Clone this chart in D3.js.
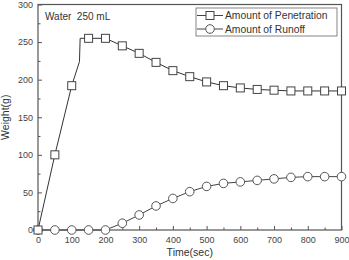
<!DOCTYPE html>
<html><head><meta charset="utf-8">
<script src="https://cdn.jsdelivr.net/npm/d3@7"></script>
<style>body{margin:0;background:#fff}svg{display:block;font-family:"Liberation Sans",Arial,sans-serif}</style>
</head><body>
<script>
const penTime = [0, 50, 100, 123, 125, 150, 200, 250, 300, 350, 400, 450, 500, 550, 600, 650, 700, 750, 800, 850, 900];
const penValue = [0, 100, 192, 224, 255, 255, 255, 245, 235, 223, 212, 204, 197, 192, 189, 187, 186, 185, 185, 185, 185];
const runTime = [0, 50, 100, 150, 200, 250, 300, 350, 400, 450, 500, 550, 600, 650, 700, 750, 800, 850, 900];
const runValue = [0, 0, 0, 0, 0, 9, 20, 32, 42, 51, 58, 62, 64, 66, 68, 70, 71, 71, 71];
const xTicks = [0, 100, 200, 300, 400, 500, 600, 700, 800, 900];
const yTicks = [0, 50, 100, 150, 200, 250, 300];
const legendLabels = ["Amount of Penetration", "Amount of Runoff"];
const annotation = "Water  250 mL";

const W = 349, H = 260;
const svg = d3.select("body").append("svg").attr("width", W).attr("height", H);
const x = d3.scaleLinear().domain([0, 900]).range([38, 341.5]);
const y = d3.scaleLinear().domain([0, 300]).range([230, 4.5]);
const ink = "#444";

// frame
svg.append("rect").attr("x", x(0)).attr("y", y(300)).attr("width", x(900) - x(0)).attr("height", y(0) - y(300))
  .attr("fill", "none").attr("stroke", "#555").attr("stroke-width", 1.2);

// x axis
const xa = svg.append("g").attr("transform", `translate(0,${y(0)})`)
  .call(d3.axisBottom(x).tickValues(xTicks).tickSize(-4).tickPadding(7).tickFormat(d3.format("d")));
const xm = svg.append("g").attr("transform", `translate(0,${y(0)})`)
  .call(d3.axisBottom(x).tickValues(d3.range(50, 900, 100)).tickSize(-2.5).tickFormat(""));
// y axis
const ya = svg.append("g").attr("transform", `translate(${x(0)},0)`)
  .call(d3.axisLeft(y).tickValues(yTicks).tickSize(-4).tickPadding(5).tickFormat(d3.format("d")));
const ym = svg.append("g").attr("transform", `translate(${x(0)},0)`)
  .call(d3.axisLeft(y).tickValues(d3.range(25, 300, 50)).tickSize(-2.5).tickFormat(""));
[xa, xm, ya, ym].forEach(g => {
  g.select(".domain").remove();
  g.selectAll("line").attr("stroke", "#555");
  g.selectAll("text").attr("fill", "#444").style("font-size", "9px");
});

// titles
svg.append("text").attr("x", (x(0) + x(900)) / 2).attr("y", 256).attr("text-anchor", "middle")
  .attr("fill", "#333").style("font-size", "10.5px").text("Time(sec)");
svg.append("text").attr("transform", `translate(9,${y(150)}) rotate(-90)`).attr("text-anchor", "middle")
  .attr("fill", "#333").style("font-size", "10.5px").text("Weight(g)");
svg.append("text").attr("x", 45).attr("y", 20).attr("fill", "#333").style("font-size", "10px")
  .style("white-space", "pre").text(annotation);

const line = d3.line().x(d => x(d[0])).y(d => y(d[1]));
const pen = penTime.map((t, i) => [t, penValue[i]]);
const run = runTime.map((t, i) => [t, runValue[i]]);

svg.append("path").datum(run).attr("d", line).attr("fill", "none").attr("stroke", ink).attr("stroke-width", 1);
svg.append("path").datum(pen).attr("d", line).attr("fill", "none").attr("stroke", "#333").attr("stroke-width", 1);

svg.selectAll(".rm").data(run).enter().append("circle")
  .attr("cx", d => x(d[0])).attr("cy", d => y(d[1])).attr("r", 4.3)
  .attr("fill", "#fff").attr("stroke", "#555").attr("stroke-width", 1);
svg.selectAll(".pm").data(pen.filter(d => d[0] % 50 === 0)).enter().append("rect")
  .attr("x", d => x(d[0]) - 4).attr("y", d => y(d[1]) - 4).attr("width", 8).attr("height", 8)
  .attr("fill", "#fff").attr("stroke", "#444").attr("stroke-width", 1);

// legend
const lg = svg.append("g");
lg.append("rect").attr("x", 196).attr("y", 8).attr("width", 141).attr("height", 28)
  .attr("fill", "#fff").attr("stroke", "#666").attr("stroke-width", 0.8);
legendLabels.forEach((lab, i) => {
  const ly = 15.5 + i * 13.5;
  lg.append("line").attr("x1", 197).attr("x2", 223).attr("y1", ly).attr("y2", ly).attr("stroke", ink);
  if (i === 0) lg.append("rect").attr("x", 206).attr("y", ly - 4).attr("width", 8).attr("height", 8)
    .attr("fill", "#fff").attr("stroke", ink);
  else lg.append("circle").attr("cx", 210).attr("cy", ly).attr("r", 4.3).attr("fill", "#fff").attr("stroke", "#555");
  lg.append("text").attr("x", 225).attr("y", ly + 3.5).attr("fill", "#333").style("font-size", "10.3px").text(lab);
});
</script>
</body></html>
